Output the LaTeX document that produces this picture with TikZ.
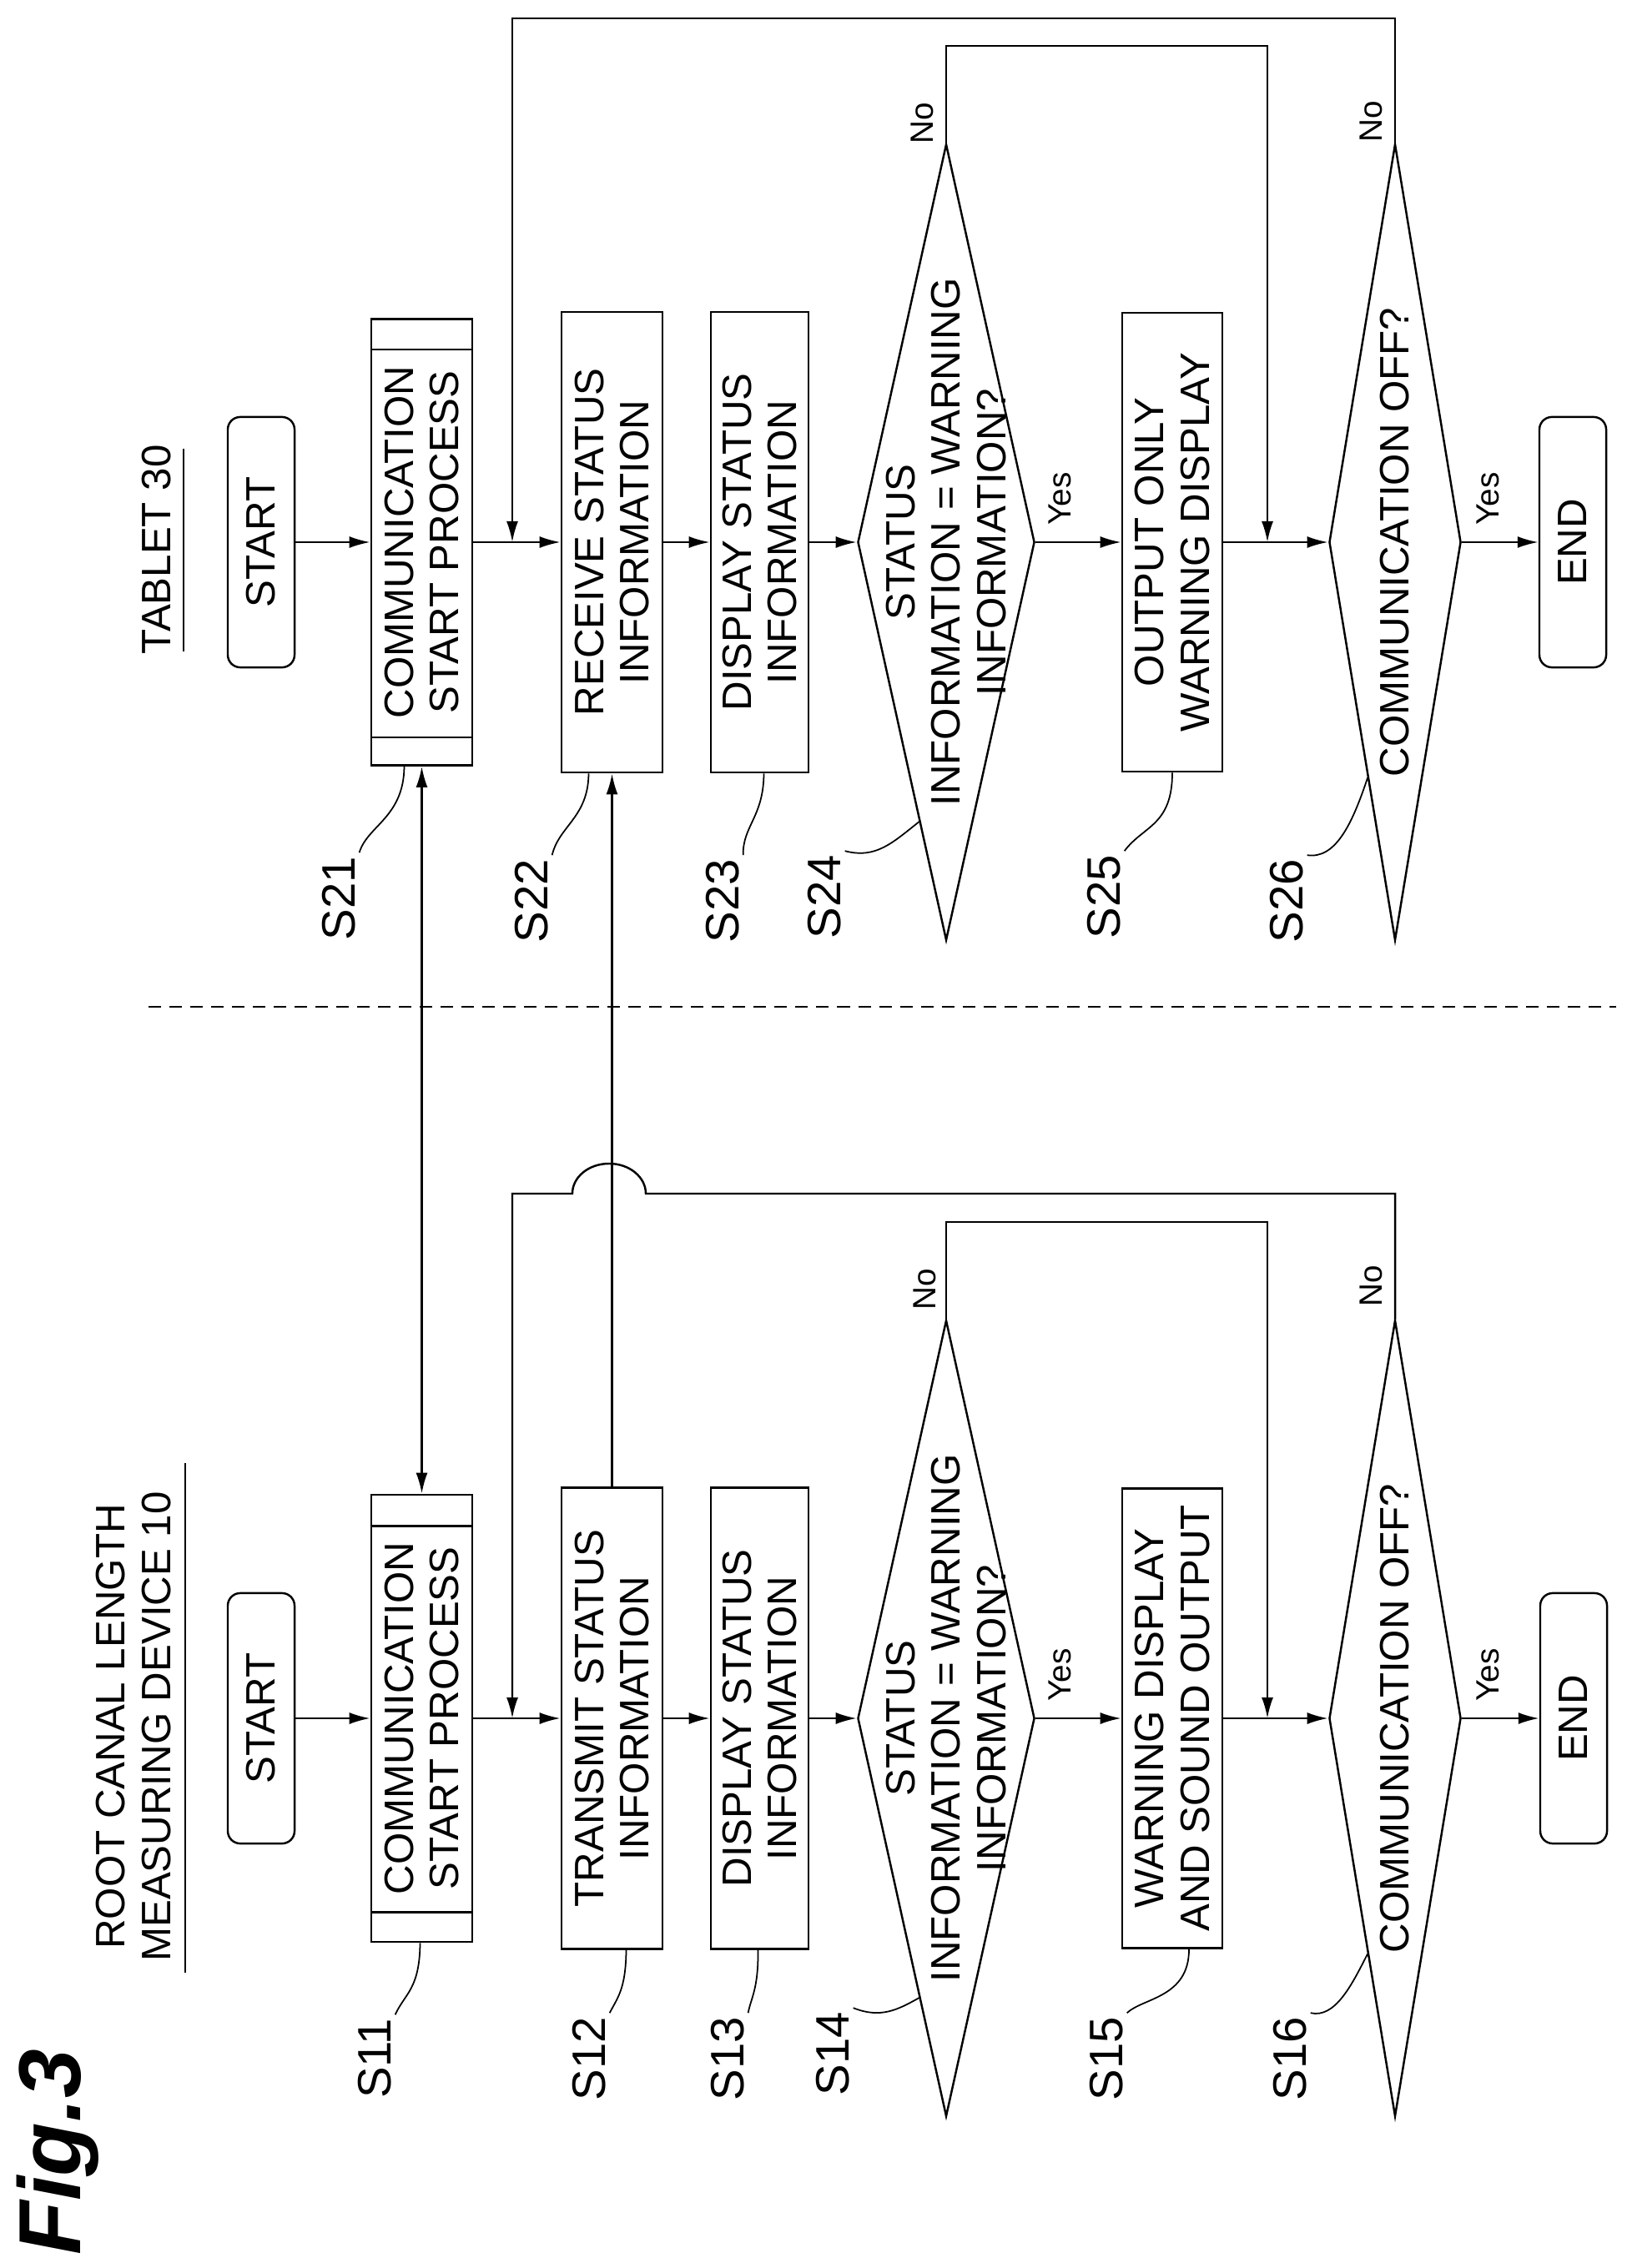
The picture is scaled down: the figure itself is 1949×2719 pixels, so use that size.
\documentclass[tikz,border=0pt]{standalone}
\usepackage{fontspec}
\setmainfont{Liberation Sans}
\usetikzlibrary{shapes.geometric,arrows.meta,calc}
\begin{document}
\begin{tikzpicture}[x=0.01cm,y=-0.01cm,line width=0.7pt,
  txt/.style={font=\fontsize{14}{15.5}\selectfont},
  box/.style={draw,rotate=90,align=center,inner sep=0pt,txt},
  term/.style={box,rounded corners=0.15cm,minimum width=3.0cm,minimum height=0.8cm},
  dia/.style={draw,shape=diamond,rotate=90,inner sep=0pt,minimum width=9.54cm},
  dtext/.style={rotate=90,align=center,txt},
  lab/.style={rotate=90,font=\fontsize{16}{18}\selectfont,inner sep=1pt},
  yn/.style={rotate=90,font=\fontsize{11}{12}\selectfont,inner sep=0pt},
  arr/.style={-{Latex[length=0.25cm,width=0.14cm]}},
  darr/.style={{Latex[length=0.25cm,width=0.14cm]}-{Latex[length=0.25cm,width=0.14cm]}},
  lead/.style={line width=0.5pt}]
\useasboundingbox (0,0) rectangle (1949,2719);

% titles
\node[rotate=90,font=\fontsize{30}{32}\selectfont\bfseries\itshape] (fig) at (69,2580) {Fig.3};
\node[rotate=90,align=center,txt] (t1) at (160,2070) {ROOT CANAL LENGTH\\MEASURING DEVICE 10};
\node[rotate=90,txt] (t2) at (188,659) {TABLET 30};
\draw (222,1754) -- (222,2365);
\draw (220,538) -- (220,781);
\draw[dash pattern=on 0.15cm off 0.1cm] (178,1207) -- (1937,1207);

% ---------- tablet 30 ----------
\node[term] (st2) at (313,650) {START};
\node[box,minimum width=5.35cm,minimum height=1.21cm] (s21) at (505.5,650) {COMMUNICATION\\START PROCESS};
\draw ([yshift=-0.38cm]s21.north east) -- ([yshift=-0.38cm]s21.south east);
\draw ([yshift=0.35cm]s21.north west) -- ([yshift=0.35cm]s21.south west);
\node[box,minimum width=5.52cm,minimum height=1.21cm] (s22) at (733.5,650) {RECEIVE STATUS\\INFORMATION};
\node[box,minimum width=5.52cm,minimum height=1.17cm] (s23) at (910.5,650) {DISPLAY STATUS\\INFORMATION};
\node[dia,minimum height=2.12cm] (s24) at (1134,650) {};
\node[dtext] (s24t) at (s24) {STATUS\\INFORMATION = WARNING\\INFORMATION?};
\node[box,minimum width=5.5cm,minimum height=1.2cm] (s25) at (1405,650) {OUTPUT ONLY\\WARNING DISPLAY};
\node[dia,minimum height=1.58cm] (s26) at (1672,650) {};
\node[dtext] (s26t) at (s26) {COMMUNICATION OFF?};
\node[term] (en2) at (1885,650) {END};

\draw[arr] (st2) -- (s21);
\draw[arr] (s21) -- (s22);
\draw[arr] (s22) -- (s23);
\draw[arr] (s23) -- (s24);
\draw[arr] (s24) -- (s25);
\draw[arr] (s25) -- (s26);
\draw[arr] (s26) -- (en2);
\coordinate (n24) at (1519,55);
\coordinate (m24) at (1519,650);
\draw[arr] (s24.east) |- (n24) -- (m24);
\coordinate (n26a) at (1672,22);
\coordinate (n26b) at (614,22);
\coordinate (m26) at (614,650);
\draw[arr] (s26.east) -- (n26a) -- (n26b) -- (m26);
\node[yn] (y24) at (1270,598) {Yes};
\node[yn] (y26) at (1783,598) {Yes};
\node[yn] (no24) at (1105,148) {No};
\node[yn] (no26) at (1643,146) {No};

\node[lab] (l21) at (406,1077) {S21};
\node[lab] (l22) at (637,1080) {S22};
\node[lab] (l23) at (866,1080) {S23};
\node[lab] (l24) at (988,1075) {S24};
\node[lab] (l25) at (1323,1075) {S25};
\node[lab] (l26) at (1542,1080) {S26};
\draw[lead] (l21.south east) .. controls (440,990) and (484,980) .. ([xshift=-0.21cm]s21.west);
\draw[lead] (l22.south east) .. controls (670,990) and (705,980) .. ([xshift=-0.28cm]s22.west);
\draw[lead] (l23.south east) .. controls (890,990) and (915,980) .. ([xshift=0.05cm]s23.west);
\draw[lead] (l24.south east) .. controls (1050,1030) and (1070,1010) .. ($(s24.north)!0.7!(s24.west)$);
\draw[lead] (l25.south east) .. controls (1370,990) and (1405,990) .. (s25.west);
\draw[lead] (l26.south east) .. controls (1600,1030) and (1620,990) .. ($(s26.north)!0.59!(s26.west)$);

% ---------- device 10 ----------
\node[term] (st1) at (313,2060) {START};
\node[box,minimum width=5.36cm,minimum height=1.21cm] (s11) at (505.5,2060) {COMMUNICATION\\START PROCESS};
\draw ([yshift=-0.39cm]s11.north east) -- ([yshift=-0.39cm]s11.south east);
\draw ([yshift=0.37cm]s11.north west) -- ([yshift=0.37cm]s11.south west);
\node[box,minimum width=5.53cm,minimum height=1.21cm] (s12) at (733.5,2060) {TRANSMIT STATUS\\INFORMATION};
\node[box,minimum width=5.53cm,minimum height=1.17cm] (s13) at (910.5,2060) {DISPLAY STATUS\\INFORMATION};
\node[dia,minimum height=2.12cm] (s14) at (1134,2060) {};
\node[dtext] (s14t) at (s14) {STATUS\\INFORMATION = WARNING\\INFORMATION?};
\node[box,minimum width=5.51cm,minimum height=1.2cm] (s15) at (1405,2060) {WARNING DISPLAY\\AND SOUND OUTPUT};
\node[dia,minimum height=1.58cm] (s16) at (1672,2060) {};
\node[dtext] (s16t) at (s16) {COMMUNICATION OFF?};
\node[term] (en1) at (1886,2060) {END};

\draw[arr] (st1) -- (s11);
\draw[arr] (s11) -- (s12);
\draw[arr] (s12) -- (s13);
\draw[arr] (s13) -- (s14);
\draw[arr] (s14) -- (s15);
\draw[arr] (s15) -- (s16);
\draw[arr] (s16) -- (en1);
\coordinate (n14) at (1519,1465);
\coordinate (m14) at (1519,2060);
\draw[arr] (s14.east) |- (n14) -- (m14);
\coordinate (n16a) at (1672,1431);
\coordinate (h16) at (774,1431);
\coordinate (n16b) at (614,1431);
\coordinate (m16) at (614,2060);
\draw[arr] (s16.east) -- (n16a) -- (h16) arc[start angle=0,end angle=180,x radius=0.44cm,y radius=0.36cm] -- (n16b) -- (m16);
\node[yn] (y14) at (1270,2008) {Yes};
\node[yn] (y16) at (1783,2008) {Yes};
\node[yn] (no14) at (1108,1546) {No};
\node[yn] (no16) at (1643,1542) {No};

\node[lab] (l11) at (449,2468) {S11};
\node[lab] (l12) at (706,2468) {S12};
\node[lab] (l13) at (872,2468) {S13};
\node[lab] (l14) at (998,2462) {S14};
\node[lab] (l15) at (1326,2468) {S15};
\node[lab] (l16) at (1546,2468) {S16};
\draw[lead] (l11.south east) .. controls (485,2390) and (503,2385) .. ([xshift=-0.02cm]s11.west);
\draw[lead] (l12.south east) .. controls (740,2395) and (750,2385) .. ([xshift=0.17cm]s12.west);
\draw[lead] (l13.south east) .. controls (900,2395) and (909,2385) .. ([xshift=-0.02cm]s13.west);
\draw[lead] (l14.south east) .. controls (1055,2420) and (1075,2410) .. ($(s14.north)!0.7!(s14.west)$);
\draw[lead] (l15.south east) .. controls (1370,2395) and (1425,2395) .. ([xshift=0.2cm]s15.west);
\draw[lead] (l16.south east) .. controls (1600,2420) and (1620,2380) .. ($(s16.north)!0.59!(s16.west)$);

% inter-device connectors
\draw[darr] (s21.west) -- (s11.east);
\draw[arr] (s12.east) -- (s22.west);
\end{tikzpicture}
\end{document}
